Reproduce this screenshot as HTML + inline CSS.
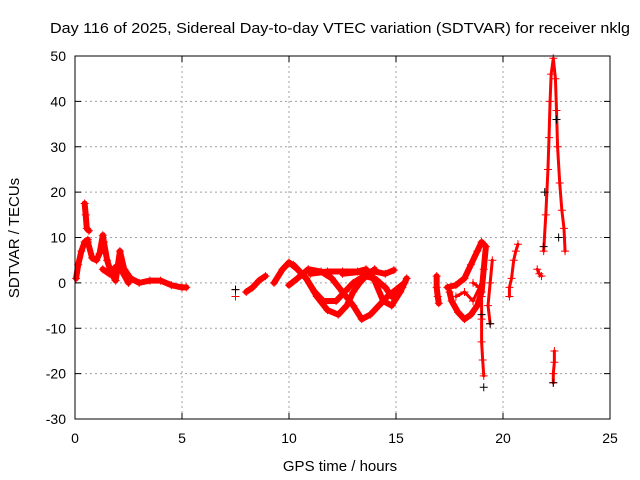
<!DOCTYPE html>
<html><head><meta charset="utf-8"><style>
body{margin:0;background:#fff}
svg{display:block;font-family:"Liberation Sans",sans-serif}
</style></head><body>
<svg id="c" width="640" height="480">
<text x="340" y="33" text-anchor="middle" font-size="15" textLength="580" lengthAdjust="spacingAndGlyphs">Day 116 of 2025, Sidereal Day-to-day VTEC variation (SDTVAR) for receiver nklg</text>
<text x="340" y="471" text-anchor="middle" font-size="15">GPS time / hours</text>
<text transform="translate(19,238) rotate(-90)" text-anchor="middle" font-size="15">SDTVAR / TECUs</text>
<g id="grid"></g><g id="marks"></g><g id="axes"></g>
</svg>
<script>
const xTicks=[0,5,10,15,20,25];
const yTicks=[-30,-20,-10,0,10,20,30,40,50];
const redSegments=[
[[0.05,1],[0.15,4],[0.3,7],[0.45,9],[0.6,9.5]],
[[0.45,17.5],[0.5,15],[0.55,12],[0.65,11.5]],
[[0.6,9],[0.8,5.5],[1.0,5],[1.15,6.5],[1.3,10.5],[1.35,9],[1.5,5],[1.7,2],[1.9,0.5],[2.1,7],[2.3,3],[2.6,1],[3.0,0],[3.5,0.5],[4.0,0.5],[4.5,-0.5],[5.0,-1],[5.2,-1]],
[[1.3,3],[1.6,2],[1.9,3.5],[2.2,2.5],[2.5,0]],
[[7.5,-1.5],[7.5,-3]],
[[8.0,-2],[8.3,-1],[8.6,0.5],[8.9,1.5]],
[[9.3,0],[9.7,3],[10.0,4.5],[10.4,3],[10.8,1],[11.3,-3],[11.8,-6],[12.3,-7],[12.7,-5],[13.0,-2],[13.3,0],[13.7,2],[14.0,3]],
[[10.0,-0.5],[10.4,1],[10.9,3],[11.5,2.5],[12.0,1],[12.5,-2],[13.0,-5],[13.4,-8],[13.8,-7],[14.2,-5],[14.6,-3],[15.0,-1.5],[15.4,0]],
[[10.2,4],[10.8,1],[11.2,-2],[11.6,-4],[12.2,-4],[12.6,-2],[13.0,0],[13.5,1.5],[14.0,1],[14.5,-1],[14.8,-3],[15.3,-1]],
[[11.0,2],[11.8,2.5],[12.5,2.5],[13.2,2.5],[13.6,3],[14.0,0.5],[14.4,-4],[14.8,-5],[15.2,-2],[15.5,1]],
[[12.5,2],[13.5,2.5],[14.0,2.5],[14.5,2],[14.9,2.8]],
[[16.9,1.5],[16.9,-1],[16.95,-3],[17.0,-4.5]],
[[17.4,-1],[17.8,-0.5],[18.2,1],[18.5,4],[18.8,7],[19.0,9],[19.2,8],[19.1,3],[19.0,-2],[18.8,-5],[18.5,-7],[18.2,-8],[17.9,-6.5],[17.6,-4],[17.5,-2]],
[[17.8,-3],[18.2,-2],[18.6,-4],[18.9,-1],[18.6,0]],
[[19.0,-3],[19.0,-8],[19.0,-13],[19.05,-17],[19.1,-20.5]],
[[19.5,5],[19.4,0],[19.3,-5],[19.4,-9]],
[[20.3,-3],[20.3,-1],[20.4,1],[20.5,5],[20.6,7],[20.7,8.5]],
[[21.6,3],[21.7,2],[21.8,1.5]],
[[21.9,7],[22.0,15],[22.1,25],[22.15,32],[22.2,40],[22.25,46],[22.35,49.5],[22.45,45],[22.5,38],[22.55,30],[22.65,22],[22.75,16],[22.85,12],[22.9,7]],
[[22.4,-15],[22.4,-17.5],[22.35,-20],[22.35,-22]]
];
const blackT=[19.1,19.4,21.9,21.95,22.5,22.6,22.35,7.5,19.0];
const blackV=[-23,-9,8,20,36,10,-22,-1.5,-7];
const X0=75,X1=610,Y0=419,Y1=56;
const xs=t=>X0+(t-0)/(25-0)*(X1-X0);
const ys=v=>Y0-(v+30)/(80)*(Y0-Y1);
const NS="http://www.w3.org/2000/svg";
function mk(tag,attrs,parent){const e=document.createElementNS(NS,tag);for(const k in attrs)e.setAttribute(k,attrs[k]);parent.appendChild(e);return e;}
const grid=document.getElementById('grid'),marks=document.getElementById('marks'),axes=document.getElementById('axes');
xTicks.forEach(t=>{
 if(t>0&&t<25){const l=mk('line',{x1:xs(t),x2:xs(t),y1:Y1,y2:Y0,stroke:'#a0a0a0','stroke-dasharray':'2,3'},grid);
 
 }
 const tx=mk('text',{x:xs(t),y:Y0+24,'text-anchor':'middle','font-size':14},axes);tx.textContent=t;
 
 
 mk('line',{x1:xs(t),x2:xs(t),y1:Y0,y2:Y0-6,stroke:'#000'},axes);
 mk('line',{x1:xs(t),x2:xs(t),y1:Y1,y2:Y1+6,stroke:'#000'},axes);
});
yTicks.forEach(v=>{
 if(v>-30&&v<50){const l=mk('line',{x1:X0,x2:X1,y1:ys(v),y2:ys(v),stroke:'#a0a0a0','stroke-dasharray':'2,3'},grid);
 
 }
 const tx=mk('text',{x:X0-9,y:ys(v)+5,'text-anchor':'end','font-size':14},axes);tx.textContent=v;
 
 
 mk('line',{x1:X0,x2:X0+6,y1:ys(v),y2:ys(v),stroke:'#000'},axes);
 mk('line',{x1:X1,x2:X1-6,y1:ys(v),y2:ys(v),stroke:'#000'},axes);
});
const fr=mk('rect',{x:X0,y:Y1,width:X1-X0,height:Y0-Y1,fill:'none',stroke:'#000'},axes);


function cross(x,y,col,parent){mk('path',{d:`M${x-4},${y}h8M${x},${y-4}v8`,stroke:col,'stroke-width':1},parent);}
redSegments.forEach((seg,i)=>{
 const g=mk('g',{},marks);
 
 
 const w=(i>=13)?3:6;
 if(seg.length>2){mk('polyline',{points:seg.map(p=>xs(p[0])+','+ys(p[1])).join(' '),fill:'none',stroke:'#ff0000','stroke-width':w,'stroke-linejoin':'round','stroke-linecap':'round'},g);}
 seg.forEach(p=>cross(xs(p[0]),ys(p[1]),'#ff0000',g));
});
blackT.forEach((t,i)=>{
 const g=mk('g',{},marks);
 
 
 cross(xs(t),ys(blackV[i]),'#000',g);
});
</script>
</body></html>
